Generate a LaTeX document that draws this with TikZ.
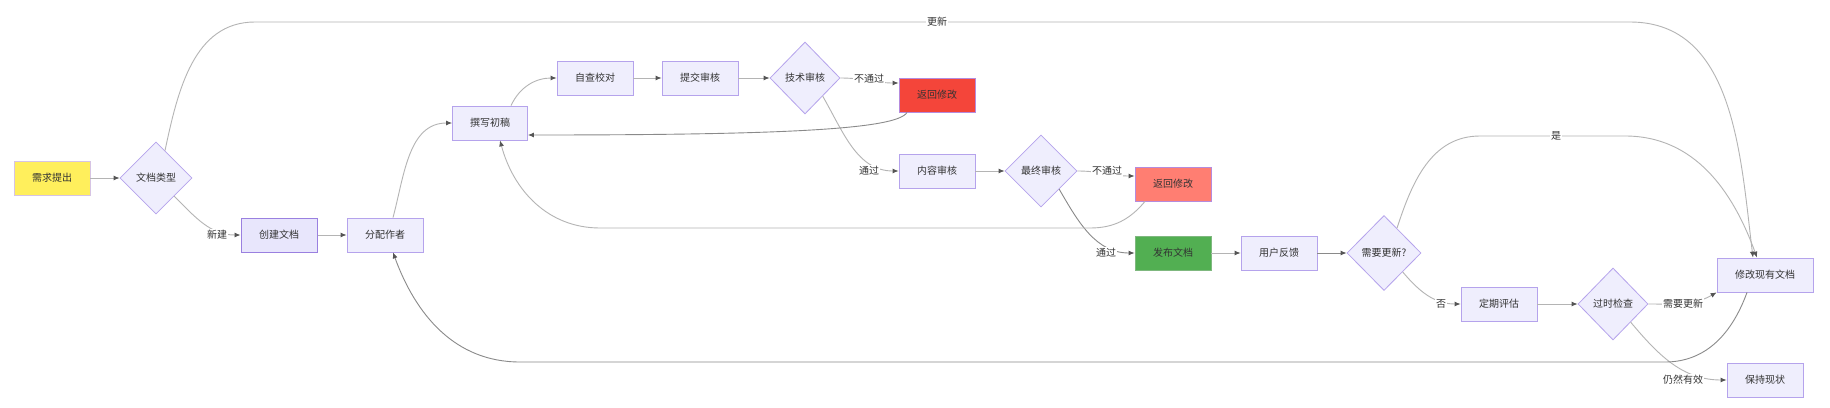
\documentclass[tikz,border=0pt]{standalone}
\usepackage{fontspec}
\setmainfont{Noto Sans CJK SC}
\usetikzlibrary{shapes.geometric,arrows.meta}
\definecolor{nodefill}{HTML}{EFEEFD}
\definecolor{nodeline}{HTML}{B5A3EC}
\definecolor{edgec}{HTML}{B4B4B4}
\definecolor{edged}{HTML}{8A8A8A}
\definecolor{tipc}{HTML}{555555}
\definecolor{txt}{HTML}{333333}
\definecolor{yel}{HTML}{FFEF5C}
\definecolor{yelline}{HTML}{D6C4E4}
\definecolor{redc}{HTML}{F4453A}
\definecolor{redline}{HTML}{B58BDD}
\definecolor{lred}{HTML}{FF7E72}
\definecolor{grn}{HTML}{52AF52}
\definecolor{grnline}{HTML}{7FB87F}
\definecolor{createline}{HTML}{9A80E0}
\definecolor{createfill}{HTML}{E8E6FC}
\begin{document}
\begin{tikzpicture}[x=1pt,y=1pt,
  font=\fontsize{10pt}{12pt}\selectfont,
  box/.style={draw=nodeline, fill=nodefill, line width=0.8pt, minimum width=76pt, minimum height=34pt, inner sep=0pt, text=txt},
  dia/.style={diamond, aspect=1, draw=nodeline, fill=nodefill, line width=0.8pt, minimum width=72pt, minimum height=72pt, inner sep=0pt, text=txt},
  edge/.style={draw=edgec, line width=0.9pt, -{Latex[length=6pt,width=5pt,color=tipc]}},
  edk/.style={edge, draw=edged},
  lab/.style={fill=white, inner sep=1pt, text=txt}]
\useasboundingbox[fill=white] (0,0) rectangle (1830,-407);

% nodes
\node[box, fill=yel, draw=yelline] (req) at (52,-178) {需求提出};
\node[dia] (dtype) at (156,-178) {文档类型};
\node[box, draw=createline, fill=createfill, line width=1pt] (create) at (279,-235) {创建文档};
\node[box] (assign) at (385,-235) {分配作者};
\node[box, minimum width=75pt] (draft) at (490,-123) {撰写初稿};
\node[box] (self) at (595,-78) {自查校对};
\node[box] (submit) at (700,-78) {提交审核};
\node[dia, minimum width=70pt] (tech) at (805,-78) {技术审核};
\node[box, fill=redc, draw=redline] (ret1) at (937,-95) {返回修改};
\node[box] (content) at (937,-171) {内容审核};
\node[dia] (final) at (1041,-171) {最终审核};
\node[box, fill=lred, draw=redline] (ret2) at (1173,-184) {返回修改};
\node[box, fill=grn, draw=grnline] (pub) at (1173,-253) {发布文档};
\node[box] (fb) at (1279,-253) {用户反馈};
\node[dia, minimum width=74pt, minimum height=75pt] (need) at (1384,-253) {需要更新?};
\node[box] (per) at (1499,-304) {定期评估};
\node[dia, minimum width=70pt] (old) at (1613,-304) {过时检查};
\node[box, minimum width=96pt] (mod) at (1765,-275) {修改现有文档};
\node[box] (keep) at (1765,-380) {保持现状};

% waypoints
\coordinate (w1) at (1090,-228);
\coordinate (w2) at (600,-228);
\coordinate (w3) at (1665,-362);
\coordinate (w4) at (520,-362);
\coordinate (w5) at (255,-22);
\coordinate (w6) at (1630,-22);
\coordinate (w7) at (1480,-136);
\coordinate (w8) at (1625,-136);

% edges
\draw[edge] (req.east) -- (dtype.west);
\draw[edge] (dtype.south east) to[out=-45,in=180] (create.west);
\draw[edge] (create.east) -- (assign.west);
\draw[edge] ([xshift=8pt]assign.north) to[out=75,in=180] (draft.west);
\draw[edge] ([xshift=21pt]draft.north) to[out=65,in=180] (self.west);
\draw[edge] (self.east) -- (submit.west);
\draw[edge] (submit.east) -- (tech.west);
\draw[edge] (tech.east) to[out=0,in=180] ([yshift=12pt]ret1.west);
\draw[edge] (tech.south east) to[out=-60,in=180] (content.west);
\draw[edk] ([xshift=-30pt]ret1.south) to[out=-120,in=0,out distance=20pt,in distance=250pt] ([yshift=-12pt]draft.east);
\draw[edge] (content.east) -- (final.west);
\draw[edge] (final.east) to[out=0,in=180] ([yshift=8pt]ret2.west);
\draw[edk] (final.south east) to[out=-60,in=180] (pub.west);
\draw[edge] ([xshift=-28pt]ret2.south) to[out=-130,in=0] (w1) -- (w2) to[out=180,in=-75] ([xshift=10pt]draft.south);
\draw[edge] (pub.east) -- (fb.west);
\draw[edk] (fb.east) -- (need.west);
\draw[edge] (need.south east) to[out=-50,in=180] (per.west);
\draw[edge] (per.east) -- (old.west);
\draw[edge] (old.east) to[out=0,in=210] (mod.south west);
\draw[edge] (old.south east) to[out=-50,in=180] (keep.west);
\draw[edk] ([xshift=-18pt]mod.south) to[out=-110,in=0] (w3) -- (w4) to[out=180,in=-70] ([xshift=8pt]assign.south);
\draw[edge] ([xshift=9pt,yshift=-9pt]dtype.north) to[out=78,in=180] (w5) -- (w6) to[out=0,in=97] ([xshift=-12pt]mod.north);
\draw[edge] ([xshift=13pt,yshift=-13pt]need.north) to[out=72,in=180] (w7) -- (w8) to[out=0,in=110] ([xshift=-8pt]mod.north);

% labels
\node[lab] (l1) at (217,-235) {新建};
\node[lab] (l2) at (869,-79) {不通过};
\node[lab] (l3) at (869,-171) {通过};
\node[lab] (l4) at (1107,-171) {不通过};
\node[lab] (l5) at (1106,-253) {通过};
\node[lab] (l6) at (1441,-304) {否};
\node[lab] (l7) at (1683,-304) {需要更新};
\node[lab] (l8) at (1683,-380) {仍然有效};
\node[lab] (l9) at (937,-22) {更新};
\node[lab] (l10) at (1556,-136) {是};
\end{tikzpicture}
\end{document}
